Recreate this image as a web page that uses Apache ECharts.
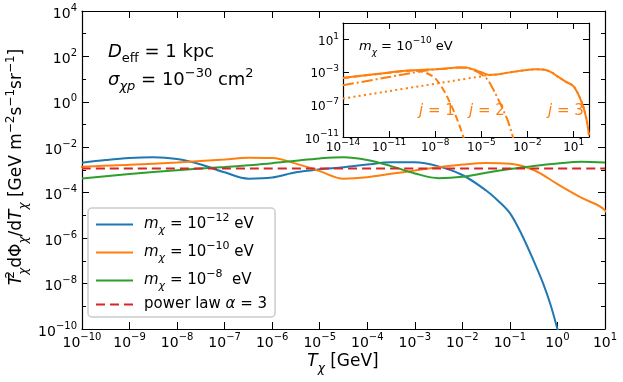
<!DOCTYPE html>
<html>
<head>
<meta charset="utf-8">
<script src="https://cdn.jsdelivr.net/npm/echarts@6/dist/echarts.min.js"></script>
<style>
html, body { margin: 0; padding: 0; background: #fff; }
#chart { width: 623px; height: 382px; }
</style>
</head>
<body>
<div id="chart"></div>
<script>
// all values are log10

// main panel
const blueLogT = [-10, -9.5, -9, -8.5, -8, -7.5, -7, -6.5, -6, -5.5, -5, -4.5, -4, -3.5, -3, -2.5, -2, -1.5, -1.25, -1, -0.75, -0.5, -0.3, -0.15, 0, 0.05];
const blueLogF = [-2.68, -2.56, -2.47, -2.44, -2.52, -2.76, -3.10, -3.38, -3.33, -3.10, -2.97, -2.88, -2.76, -2.66, -2.66, -2.84, -3.22, -3.9, -4.35, -4.9, -5.85, -7.0, -8.0, -8.9, -10.0, -10.4];

const greenLogT = [-10, -9, -8, -7, -6.5, -6, -5.5, -5, -4.5, -4, -3.5, -3, -2.5, -2, -1.5, -1, -0.5, 0, 0.5, 1];
const greenLogF = [-3.37, -3.18, -3.01, -2.87, -2.79, -2.70, -2.59, -2.49, -2.44, -2.56, -2.83, -3.15, -3.36, -3.30, -3.12, -2.96, -2.82, -2.71, -2.64, -2.67];

// m = 1e-10 eV total, also the solid line of the inset
const orangeLogT = [-14, -13, -12, -11, -10, -9, -8, -7, -6.5, -6, -5.5, -5, -4.5, -4, -3.5, -3, -2.5, -2, -1.5, -1, -0.5, 0, 0.5, 1, 1.5, 1.8, 2];
const orangeLogF = [-3.74, -3.52, -3.3, -3.08, -2.86, -2.77, -2.67, -2.54, -2.46, -2.47, -2.72, -3.05, -3.38, -3.32, -3.17, -3.02, -2.88, -2.76, -2.69, -2.72, -3.0, -3.62, -4.22, -4.78, -6.6, -8.5, -10.8];

const powerLawLogT = [-10, 1];
const powerLawLogF = [-2.93, -2.93];

// inset components
const j1LogT = [-14, -13, -12, -11, -10, -9.5, -9, -8.5, -8, -7.5, -7, -6.5, -6.1];
const j1LogF = [-3.76, -3.54, -3.32, -3.11, -2.9, -2.84, -2.92, -3.2, -3.8, -5.1, -6.95, -9.2, -11.4];

const j2LogT = [-14, -12, -10, -9, -8, -7, -6.5, -6, -5.5, -5, -4.6, -4.3, -4, -3.6, -3.3, -2.9];
const j2LogF = [-4.65, -3.97, -3.29, -2.95, -2.7, -2.56, -2.48, -2.5, -2.8, -3.3, -3.95, -4.9, -6.0, -7.6, -8.9, -11.3];

const j3LogT = [-14, -12, -10, -8, -6, -5, -4.5, -4, -3.5, -3, -2.5, -2, -1.5, -1, -0.5, 0, 0.5, 1, 1.5, 1.8, 2];
const j3LogF = [-6.28, -5.67, -5.06, -4.46, -3.85, -3.55, -3.39, -3.33, -3.17, -3.02, -2.88, -2.76, -2.69, -2.72, -3.0, -3.62, -4.22, -4.78, -6.6, -8.5, -10.8];

const insetXTicks = [-14, -11, -8, -5, -2, 1];
const insetYTicks = [-11, -7, -3, 1];

const FONT = 'DejaVu Sans';
const BLUE = '#1f77b4', ORANGE = '#ff7f0e', GREEN = '#2ca02c', RED = '#d62728';

const pairs = (xs, ys) => xs.map((x, i) => [x, ys[i]]);
const minus = s => String(s).replace('-', '\u2212');
const pow10 = v => '{b|10}{s|' + minus(v) + '}';

// rich text pieces (math style)
function mathRich(size, color) {
  const small = Math.round(size * 0.7);
  const L = size + 8;
  const base = { fontFamily: FONT, color: color, fill: color };
  return {
    r: Object.assign({ fontSize: size, lineHeight: L }, base),
    it: Object.assign({ fontSize: size, lineHeight: L, fontStyle: 'italic' }, base),
    sup: Object.assign({ fontSize: small, lineHeight: small + 2, verticalAlign: 'top' }, base),
    sup0: Object.assign({ fontSize: small, lineHeight: small + 2, verticalAlign: 'top', width: 0 }, base),
    sub: Object.assign({ fontSize: small, lineHeight: small + 2, verticalAlign: 'bottom' }, base),
    subit: Object.assign({ fontSize: small, lineHeight: small + 2, verticalAlign: 'bottom', fontStyle: 'italic' }, base)
  };
}

function tickRich(size) {
  return {
    b: { fontFamily: FONT, fontSize: size, lineHeight: size + 8, color: '#000' },
    s: { fontFamily: FONT, fontSize: Math.round(size * 0.72), lineHeight: Math.round(size * 0.72) + 2, verticalAlign: 'top', color: '#000' }
  };
}

const axisLine = { show: true, onZero: false, lineStyle: { color: '#000', width: 1.2 } };
const tick = len => ({ show: true, inside: true, length: len, lineStyle: { color: '#000', width: 1 } });

const chart = echarts.init(document.getElementById('chart'));

const legendText = {
  'm12': '{it|m}{subit|χ}{r| = 10}{sup|−12}{r| eV}',
  'm10': '{it|m}{subit|χ}{r| = 10}{sup|−10}{r| eV}',
  'm8': '{it|m}{subit|χ}{r| = 10}{sup|−8}{r|  eV}',
  'pl': '{r|power law }{it|α}{r| = 3}'
};

function line(name, xs, ys, color, width, type, idx) {
  return {
    name: name, type: 'line', data: pairs(xs, ys),
    xAxisIndex: idx, yAxisIndex: idx,
    symbol: 'none', smooth: 0.35, clip: true,
    lineStyle: { color: color, width: width, type: type },
    itemStyle: { color: color },
    z: 3
  };
}

const option = {
  animation: false,
  backgroundColor: '#fff',
  grid: [
    { left: 82, right: 18, top: 11, bottom: 53 },
    { left: 343, width: 246, top: 23, height: 114 }
  ],
  xAxis: [
    { gridIndex: 0, type: 'value', min: -10, max: 1, interval: 1, position: 'bottom',
      axisLine: axisLine, axisTick: tick(7), splitLine: { show: false },
      axisLabel: { formatter: pow10, margin: 3, rich: tickRich(14), showMinLabel: true, showMaxLabel: true, hideOverlap: false } },
    { gridIndex: 0, type: 'value', min: -10, max: 1, interval: 1, position: 'top',
      axisLine: axisLine, axisTick: tick(7), splitLine: { show: false }, axisLabel: { show: false } },
    { gridIndex: 1, type: 'value', min: -14, max: 2, position: 'bottom',
      axisLine: axisLine, axisTick: Object.assign(tick(6), { customValues: insetXTicks }), splitLine: { show: false },
      axisLabel: { customValues: insetXTicks, formatter: pow10, margin: 1, rich: tickRich(12) } },
    { gridIndex: 1, type: 'value', min: -14, max: 2, position: 'top',
      axisLine: axisLine, axisTick: Object.assign(tick(6), { customValues: insetXTicks }), splitLine: { show: false },
      axisLabel: { show: false } }
  ],
  yAxis: [
    { gridIndex: 0, type: 'value', min: -10, max: 4, interval: 2, position: 'left',
      axisLine: axisLine, axisTick: tick(7), splitLine: { show: false },
      minorTick: { show: true, splitNumber: 2, length: 4, lineStyle: { color: '#000' } },
      axisLabel: { formatter: pow10, margin: 5, padding: [6, 0, 0, 0], rich: tickRich(14), showMinLabel: true, showMaxLabel: true } },
    { gridIndex: 0, type: 'value', min: -10, max: 4, interval: 2, position: 'right',
      axisLine: axisLine, axisTick: tick(7), splitLine: { show: false },
      minorTick: { show: true, splitNumber: 2, length: 4, lineStyle: { color: '#000' } },
      axisLabel: { show: false } },
    { gridIndex: 1, type: 'value', min: -11, max: 3, position: 'left',
      axisLine: axisLine, axisTick: Object.assign(tick(6), { customValues: insetYTicks }), splitLine: { show: false },
      axisLabel: { customValues: insetYTicks, formatter: pow10, margin: 4, padding: [5, 0, 0, 0], rich: tickRich(12) } },
    { gridIndex: 1, type: 'value', min: -11, max: 3, position: 'right',
      axisLine: axisLine, axisTick: Object.assign(tick(6), { customValues: insetYTicks }), splitLine: { show: false },
      axisLabel: { show: false } }
  ],
  legend: {
    data: ['m12', 'm10', 'm8', 'pl'],
    orient: 'vertical', left: 88, top: 208,
    padding: [5, 8, 5, 7],
    itemWidth: 37, itemHeight: 14, itemGap: 5,
    selectedMode: false,
    itemStyle: { opacity: 0 },
    backgroundColor: 'rgba(255,255,255,0.85)',
    borderColor: '#cccccc', borderWidth: 1.5, borderRadius: 4,
    formatter: n => legendText[n],
    textStyle: { padding: [0, 0, 0, 6], rich: mathRich(15, '#000') }
  },
  series: [
    line('m12', blueLogT, blueLogF, BLUE, 2, 'solid', 0),
    line('m10', orangeLogT, orangeLogF, ORANGE, 2, 'solid', 0),
    line('m8', greenLogT, greenLogF, GREEN, 2, 'solid', 0),
    line('pl', powerLawLogT, powerLawLogF, RED, 2, [9, 5], 0),
    line('total', orangeLogT, orangeLogF, ORANGE, 2, 'solid', 2),
    line('j1', j1LogT, j1LogF, ORANGE, 2, [7, 3.5], 2),
    line('j2', j2LogT, j2LogF, ORANGE, 2, [11, 3, 2, 3], 2),
    line('j3', j3LogT, j3LogF, ORANGE, 2, [2, 3.3], 2)
  ],
  graphic: [
    { type: 'text', x: 17, y: 167, rotation: Math.PI / 2, z: 10,
      style: { text: '{it|T}{sup0|2}{subit|χ}{r|dΦ}{subit|χ}{r|/d}{it|T}{subit|χ}{r| [GeV m}{sup|−2}{r|s}{sup|−1}{r|sr}{sup|−1}{r|]}',
               rich: mathRich(17, '#000'), align: 'center', verticalAlign: 'middle' } },
    { type: 'text', x: 343, y: 362, z: 10,
      style: { text: '{it|T}{subit|χ}{r| [GeV]}', rich: mathRich(17, '#000'), align: 'center', verticalAlign: 'middle' } },
    { type: 'text', x: 108, y: 52, z: 10,
      style: { text: '{it|D}{sub|eff}{r| = 1 kpc}', rich: mathRich(18, '#000'), align: 'left', verticalAlign: 'middle' } },
    { type: 'text', x: 108, y: 80, z: 10,
      style: { text: '{it|σ}{subit|χp}{r| = 10}{sup|−30}{r| cm}{sup|2}', rich: mathRich(18, '#000'), align: 'left', verticalAlign: 'middle' } },
    { type: 'text', x: 359, y: 47, z: 10,
      style: { text: '{it|m}{subit|χ}{r| = 10}{sup|−10}{r| eV}', rich: mathRich(13, '#000'), align: 'left', verticalAlign: 'middle' } },
    { type: 'text', x: 419, y: 111, z: 10,
      style: { text: '{it|j}{r| = 1}', rich: mathRich(15, ORANGE), align: 'left', verticalAlign: 'middle' } },
    { type: 'text', x: 469, y: 111, z: 10,
      style: { text: '{it|j}{r| = 2}', rich: mathRich(15, ORANGE), align: 'left', verticalAlign: 'middle' } },
    { type: 'text', x: 548, y: 111, z: 10,
      style: { text: '{it|j}{r| = 3}', rich: mathRich(15, ORANGE), align: 'left', verticalAlign: 'middle' } }
  ]
};

chart.setOption(option);
</script>
</body>
</html>
